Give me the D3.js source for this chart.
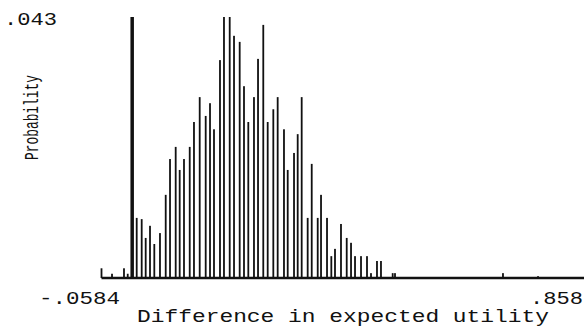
<!DOCTYPE html>
<html>
<head>
<meta charset="utf-8">
<script src="https://cdn.jsdelivr.net/npm/d3@7"></script>
<style>
  body { margin: 0; background: #fff; }
  svg { display: block; }
  text { font-family: "Liberation Mono", "DejaVu Sans Mono", monospace; fill: #111; }
</style>
</head>
<body>
<svg width="584" height="328"></svg>
<script>
// difference in expected utility (x) and its probability (bar height)
const diffValues = [
  -0.0584, -0.0384, -0.0156, -0.0085,
  0.0086, 0.0181, 0.0257, 0.0339, 0.0421, 0.0529, 0.0638, 0.0720, 0.0828, 0.0904,
  0.0986, 0.1095, 0.1176, 0.1285, 0.1399, 0.1481, 0.1557, 0.1671, 0.1747, 0.1856,
  0.1938, 0.2046, 0.2128, 0.2210, 0.2318, 0.2395, 0.2495, 0.2579, 0.2686, 0.2769,
  0.2889, 0.2960, 0.3080, 0.3150, 0.3226, 0.3340, 0.3417, 0.3531, 0.3594, 0.3708,
  0.3790, 0.3860, 0.3974, 0.4083, 0.4165, 0.4241, 0.4355, 0.4469, 0.4545, 0.4659,
  0.4735, 0.4958, 0.5002, 0.7057, 0.7724
]
const probValues = [
  0.0016, 0.0007, 0.0016, 0.0007,
  0.0099, 0.0097, 0.0066, 0.0086, 0.0056, 0.0074, 0.0137, 0.0196, 0.0216, 0.0178,
  0.0196, 0.0216, 0.0257, 0.0298, 0.0267, 0.0288, 0.0245, 0.0359, 0.0430, 0.0430,
  0.0399, 0.0389, 0.0316, 0.0257, 0.0298, 0.0361, 0.0417, 0.0257, 0.0278, 0.0298,
  0.0245, 0.0178, 0.0206, 0.0237, 0.0298, 0.0099, 0.0188, 0.0099, 0.0137, 0.0099,
  0.0036, 0.0048, 0.0089, 0.0066, 0.0058, 0.0036, 0.0036, 0.0036, 0.0008, 0.0028,
  0.0028, 0.0008, 0.0008, 0.0008, 0.0003
]
const xDomain = [-0.0584, 0.858]
const xTickLabels = ["-.0584", ".858"]
const yMax = 0.043
const yTickLabel = ".043"

const data = diffValues.map((d, i) => ({ x: d, p: probValues[i] }))

const svg = d3.select("svg")

const xScale = d3.scaleLinear().domain(xDomain).range([101.5, 583])
const yScale = d3.scaleLinear().domain([0, yMax]).range([278, 17])

// bars
svg.append("g")
  .selectAll("rect")
  .data(data)
  .join("rect")
  .attr("x", d => xScale(d.x) - 0.9)
  .attr("y", d => yScale(d.p))
  .attr("width", 1.8)
  .attr("height", d => yScale(0) - yScale(d.p))
  .attr("fill", "#111")

// y axis at zero
svg.append("line")
  .attr("x1", xScale(0)).attr("x2", xScale(0))
  .attr("y1", yScale(yMax)).attr("y2", yScale(0))
  .attr("stroke", "#111")
  .attr("stroke-width", 3.5)

// x baseline
svg.append("line")
  .attr("x1", xScale(xDomain[0])).attr("x2", 584)
  .attr("y1", yScale(0)).attr("y2", yScale(0))
  .attr("stroke", "#111")
  .attr("stroke-width", 2.5)

// labels
svg.append("text")
  .attr("x", 4).attr("y", 25)
  .attr("textLength", 53).attr("lengthAdjust", "spacingAndGlyphs")
  .style("font-size", "19px")
  .text(yTickLabel)

svg.append("text")
  .attr("x", 39).attr("y", 304)
  .attr("textLength", 81).attr("lengthAdjust", "spacingAndGlyphs")
  .style("font-size", "19px")
  .text(xTickLabels[0])

svg.append("text")
  .attr("x", 530).attr("y", 304)
  .attr("textLength", 53).attr("lengthAdjust", "spacingAndGlyphs")
  .style("font-size", "19px")
  .text(xTickLabels[1])

svg.append("text")
  .attr("x", 137).attr("y", 322)
  .attr("textLength", 412).attr("lengthAdjust", "spacingAndGlyphs")
  .style("font-size", "18px")
  .text("Difference in expected utility")

svg.append("text")
  .attr("transform", "translate(38,160) rotate(-90)")
  .attr("textLength", 85).attr("lengthAdjust", "spacingAndGlyphs")
  .style("font-size", "21px")
  .text("Probability")
</script>
</body>
</html>
